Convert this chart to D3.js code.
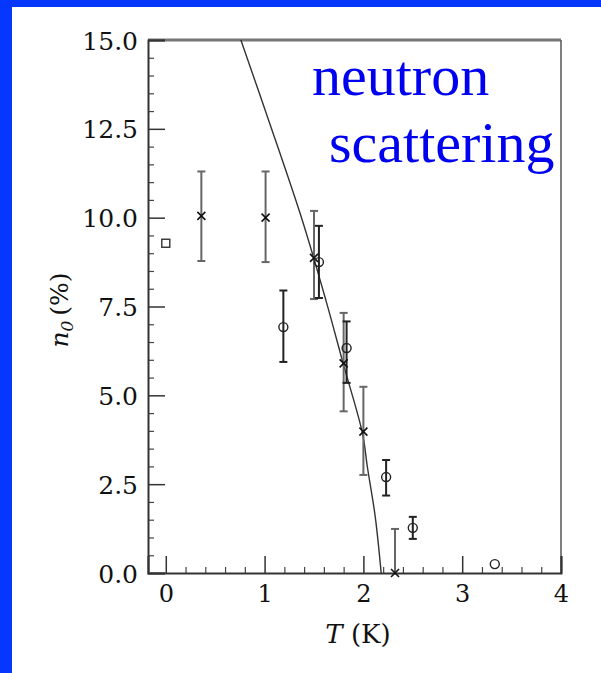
<!DOCTYPE html>
<html>
<head>
<meta charset="utf-8">
<script src="https://cdn.jsdelivr.net/npm/d3@7"></script>
<style>
  html, body { margin: 0; padding: 0; background: #0537ff; }
  svg { display: block; }
  .note { font-family: "Liberation Serif", "DejaVu Serif", serif; font-size: 58px; fill: #0000f0; }
</style>
</head>
<body>
<svg id="chart" width="601" height="673"></svg>
<script>
// cross points (one data set)
const crossT = [0.36, 1.01, 1.5, 1.8, 2.0, 2.32]
const crossN = [10.05, 10.0, 8.87, 5.9, 3.98, 0.0]
const crossLo = [8.78, 8.75, 7.71, 4.55, 2.76, 0.0]
const crossHi = [11.3, 11.3, 10.19, 7.32, 5.24, 1.24]

// circle points (other data set)
const circleT = [1.19, 1.55, 1.83, 2.23, 2.5, 3.33]
const circleN = [6.92, 8.75, 6.33, 2.7, 1.27, 0.25]
const circleLo = [5.94, 7.74, 5.35, 2.18, 0.96, null]
const circleHi = [7.95, 9.77, 7.08, 3.18, 1.58, null]

// square point
const squareT = [0.0]
const squareN = [9.28]

// theory curve
const curveT = [0.76, 1.04, 1.38, 1.62, 1.8, 1.99, 2.04, 2.12, 2.18]
const curveN = [15, 12.75, 9.94, 7.68, 5.85, 3.94, 2.99, 1.58, 0]

const yTicks = [0, 2.5, 5, 7.5, 10, 12.5, 15]
const xTicks = [0, 1, 2, 3, 4]

const svg = d3.select('#chart')

svg.append('rect').attr('x', 12).attr('y', 7).attr('width', 589).attr('height', 666).attr('fill', '#fff')

const x = d3.scaleLinear().domain([-0.18, 4.0]).range([148, 561])
const y = d3.scaleLinear().domain([0, 15]).range([573, 40])

const ink = '#111'
const serif = '"DejaVu Serif", serif'

// frame
svg.append('line').attr('x1', x(-0.18)).attr('x2', x(4)).attr('y1', y(15)).attr('y2', y(15))
  .attr('stroke', '#777').attr('stroke-width', 3)
svg.append('line').attr('x1', x(4)).attr('x2', x(4)).attr('y1', y(15)).attr('y2', y(0))
  .attr('stroke', '#555').attr('stroke-width', 1.5)

// left axis
const minorY = d3.range(0, 15.01, 0.5).filter(v => Math.abs(v / 2.5 - Math.round(v / 2.5)) > 1e-6)
svg.append('g').attr('transform', `translate(${x(-0.18)},0)`)
  .call(d3.axisLeft(y).tickValues(minorY).tickSize(-6).tickFormat(''))
  .call(g => g.select('.domain').remove())
  .selectAll('line').attr('stroke', '#444').attr('stroke-width', 1.2)

const yAxis = svg.append('g').attr('transform', `translate(${x(-0.18)},0)`)
  .call(d3.axisLeft(y).tickValues(yTicks).tickSize(-17).tickPadding(10).tickFormat(d3.format('.1f')))
yAxis.select('.domain').attr('stroke', '#333').attr('stroke-width', 2)
yAxis.selectAll('line').attr('stroke', '#333').attr('stroke-width', 1.5)
yAxis.selectAll('text').attr('font-family', serif).attr('font-size', 25).attr('fill', ink)
  .attr('dy', '0.36em')

// bottom axis
const minorX = d3.range(-0.2, 4.01, 0.2).filter(v => v > -0.17 && Math.abs(v - Math.round(v)) > 1e-6)
svg.append('g').attr('transform', `translate(0,${y(0)})`)
  .call(d3.axisBottom(x).tickValues(minorX).tickSize(-6).tickFormat(''))
  .call(g => g.select('.domain').remove())
  .selectAll('line').attr('stroke', '#444').attr('stroke-width', 1.2)

const xAxis = svg.append('g').attr('transform', `translate(0,${y(0)})`)
  .call(d3.axisBottom(x).tickValues(xTicks).tickSize(-17).tickPadding(12).tickFormat(d3.format('d')))
xAxis.select('.domain').attr('stroke', '#333').attr('stroke-width', 2)
xAxis.selectAll('line').attr('stroke', '#333').attr('stroke-width', 1.5)
xAxis.selectAll('text').attr('font-family', serif).attr('font-size', 24).attr('fill', ink)
  .attr('dy', '0.71em')

// axis titles
const xt = svg.append('text').attr('x', 358).attr('y', 643).attr('text-anchor', 'middle')
  .attr('font-family', serif).attr('font-size', 26).attr('fill', ink)
xt.append('tspan').attr('font-style', 'italic').text('T')
xt.append('tspan').text(' (K)')

const yt = svg.append('text').attr('transform', 'translate(68,310) rotate(-90)').attr('text-anchor', 'middle')
  .attr('font-family', serif).attr('font-size', 25).attr('fill', ink)
yt.append('tspan').attr('font-style', 'italic').text('n')
yt.append('tspan').attr('font-style', 'italic').attr('font-size', 17).attr('dy', 5).text('0')
yt.append('tspan').attr('dy', -5).text('\u2009(%)')

// theory curve
const curve = d3.line().x(d => x(d[0])).y(d => y(d[1])).curve(d3.curveCatmullRom)
svg.append('path').datum(d3.zip(curveT, curveN)).attr('d', curve)
  .attr('fill', 'none').attr('stroke', '#333').attr('stroke-width', 1.4)

// error bars
function errBars (ts, lo, hi, color, width) {
  const rows = ts.map((t, i) => ({ t, lo: lo[i], hi: hi[i] })).filter(d => d.lo != null)
  const g = svg.append('g').attr('stroke', color).attr('stroke-width', width)
  g.selectAll('.bar').data(rows).enter().append('line')
    .attr('x1', d => x(d.t)).attr('x2', d => x(d.t))
    .attr('y1', d => y(d.lo)).attr('y2', d => y(d.hi))
  g.selectAll('.capHi').data(rows).enter().append('line')
    .attr('x1', d => x(d.t) - 4).attr('x2', d => x(d.t) + 4)
    .attr('y1', d => y(d.hi)).attr('y2', d => y(d.hi))
  g.selectAll('.capLo').data(rows.filter(d => d.lo > 0)).enter().append('line')
    .attr('x1', d => x(d.t) - 4).attr('x2', d => x(d.t) + 4)
    .attr('y1', d => y(d.lo)).attr('y2', d => y(d.lo))
}
errBars(crossT, crossLo, crossHi, '#666', 2)
errBars(circleT, circleLo, circleHi, '#222', 2)

// markers
const crosses = svg.append('g').attr('stroke', '#111').attr('stroke-width', 1.6)
crossT.forEach((t, i) => {
  const cx = x(t); const cy = y(crossN[i])
  crosses.append('path').attr('d', `M${cx - 4},${cy - 4}L${cx + 4},${cy + 4}M${cx - 4},${cy + 4}L${cx + 4},${cy - 4}`)
})

svg.append('g').selectAll('circle').data(d3.zip(circleT, circleN)).enter().append('circle')
  .attr('cx', d => x(d[0])).attr('cy', d => y(d[1])).attr('r', 4.5)
  .attr('fill', 'none').attr('stroke', '#222').attr('stroke-width', 1.4)

svg.append('g').selectAll('rect.sq').data(d3.zip(squareT, squareN)).enter().append('rect')
  .attr('x', d => x(d[0]) - 4).attr('y', d => y(d[1]) - 4).attr('width', 8).attr('height', 8)
  .attr('fill', 'none').attr('stroke', '#333').attr('stroke-width', 1.4)

// annotation
svg.append('text').attr('class', 'note').attr('x', 312).attr('y', 95).text('neutron')
svg.append('text').attr('class', 'note').attr('x', 329).attr('y', 162).text('scattering')
</script>
</body>
</html>
